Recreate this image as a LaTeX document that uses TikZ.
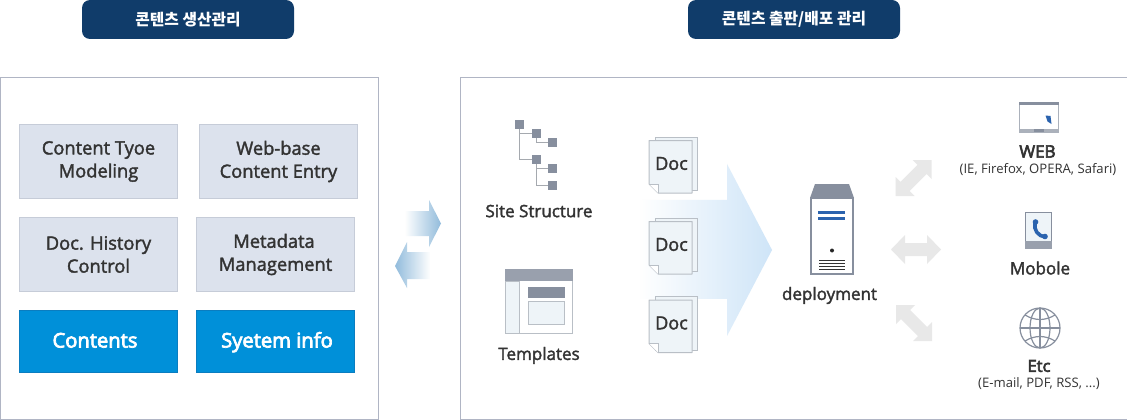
\documentclass[tikz,border=0pt]{standalone}
\usepackage{fontspec}
\setmainfont{Open Sans}
\newfontfamily\medf[FakeBold=2]{Open Sans}
\newfontfamily\strf[FakeBold=3.6]{Open Sans}
\newfontfamily\krfont{Noto Sans CJK KR}
\usetikzlibrary{calc,fadings}
\definecolor{navy}{HTML}{103C6A}
\definecolor{frameC}{HTML}{B0B5C4}
\definecolor{cellF}{HTML}{DCE2ED}
\definecolor{cellD}{HTML}{C6CCD8}
\definecolor{blueF}{HTML}{0090D9}
\definecolor{blueD}{HTML}{0A7DC0}
\definecolor{txt}{HTML}{333333}
\definecolor{iconG}{HTML}{878F9E}
\definecolor{lineG}{HTML}{A5A9AF}
\definecolor{pageF}{HTML}{EEF4F8}
\definecolor{pageD}{HTML}{B9BFC6}
\definecolor{arrowG}{HTML}{E8E8E8}
\definecolor{arrowB}{HTML}{92BCDC}
\definecolor{bigB}{HTML}{CFE5F8}
\definecolor{srvB}{HTML}{2B63AE}
\tikzfading[name=fadeR,left color=transparent!100,right color=transparent!0]
\tikzfading[name=fadeL,left color=transparent!0,right color=transparent!100]
\tikzset{
 x=1pt,y=-1pt,
 pill/.style={fill=navy,rounded corners=8pt,text=white,font=\krfont\bfseries\fontsize{15.8}{17}\selectfont,inner sep=0pt},
 frame/.style={draw=frameC,line width=1pt,fill=white},
 cell/.style={draw=cellD,line width=1pt,fill=cellF,text=txt,align=center,font=\medf\fontsize{18.3}{23}\selectfont,execute at begin node={\rule{0pt}{16pt}}},
 bcell/.style={draw=blueD,line width=.6pt,fill=blueF,text=white,font=\strf\fontsize{20.2}{23}\selectfont,text height=15pt,text depth=3pt},
 lab/.style={text=txt,font=\medf\fontsize{17}{20}\selectfont,inner sep=0pt},
 sublab/.style={text=txt,font=\fontsize{13.1}{14}\selectfont,inner sep=0pt},
 sq/.style={fill=iconG,inner sep=0pt,minimum size=9pt},
 tree/.style={draw=lineG,line width=.8pt},
 page/.style={draw=pageD,line width=1pt,fill=pageF},
 garrow/.style={fill=arrowG},
}
\newcommand{\docicon}[4]{% name, x, y(top of back sheet), text
 \draw[page] (#2+6,#3) rectangle (#2+48,#3+53.5);
 \draw[page,line join=round] (#2,#3+3.5) -- (#2+43,#3+3.5) -- (#2+43,#3+56) -- (#2+9,#3+56) -- (#2,#3+47) -- cycle;
 \draw[page,fill=white,line width=.8pt] (#2,#3+47) -- (#2+9,#3+47) -- (#2+9,#3+56);
 \node[lab,font=\medf\fontsize{18}{20}\selectfont] (#1) at (#2+22.5,#3+26.5) {#4};
}
\begin{document}
\begin{tikzpicture}
\useasboundingbox (0,0) rectangle (1127,420);
\fill[white] (0,0) rectangle (1127,420);
% headers
\node[pill,minimum width=212pt,minimum height=39pt] (h1) at (188,19.5) {콘텐츠 생산관리};
\node[pill,minimum width=212pt,minimum height=39pt] (h2) at (794,19.5) {콘텐츠 출판/배포 관리};
% frames
\draw[frame] (0.5,78) rectangle (378.5,419);
\draw[frame] (460.5,78) rectangle (1127,419);
% left cells
\node[cell,minimum width=158pt,minimum height=74pt] (c1) at (98.5,161.5) {Content Tyoe\\Modeling};
\node[cell,minimum width=158pt,minimum height=74pt] (c2) at (278.5,161.5) {Web-base\\Content Entry};
\node[cell,minimum width=158pt,minimum height=74pt] (c3) at (98.5,254.5) {Doc. History\\Control};
\node[cell,minimum width=158pt,minimum height=74pt] (c4) at (275.5,254.5) {\hspace*{-3pt}Metadata\\Management};
\node[bcell,minimum width=158pt,minimum height=62pt] (c5) at (98,341.5) {\hspace*{-6pt}Contents};
\node[bcell,minimum width=158pt,minimum height=62pt] (c6) at (275,341.5) {\hspace*{4pt}Syetem info};
% centre arrows
\fill[arrowB,path fading=fadeR] (405,211) -- (429,211) -- (429,200) -- (441,223.5) -- (429,247) -- (429,236) -- (405,236) -- cycle;
\fill[arrowB,path fading=fadeL] (430,252) -- (407,252) -- (407,242) -- (395,266) -- (407,288) -- (407,279) -- (430,279) -- cycle;
% big arrow
\fill[bigB,path fading=fadeR] (640,200) -- (727,200) -- (727,164) -- (772,250) -- (727,336) -- (727,299) -- (640,299) -- cycle;
% site tree
\node[sq] (t0) at (519.5,124.5) {};
\node[sq] (t1) at (536.5,133.5) {};
\node[sq] (t2) at (552.5,142.5) {};
\node[sq] (t3) at (536.5,159.5) {};
\node[sq] (t4) at (552.5,168.5) {};
\node[sq] (t5) at (552.5,185.5) {};
\draw[tree] (t0.south) |- (t1.west);
\draw[tree] (t0.south) |- (t3.west);
\draw[tree] (t1.south) |- (t2.west);
\draw[tree] (t3.south) |- (t4.west);
\draw[tree] (t3.south) |- (t5.west);
\node[lab] (site) at (539,211) {Site Structure};
% template
\draw[page,fill=white] (505.5,269.5) rectangle (572.5,333.5);
\fill[iconG!85!white] (505,269) rectangle (573,281);
\draw[page] (505.5,281.5) rectangle (519.5,333.5);
\fill[iconG] (528,287) rectangle (565,298);
\draw[page] (528.5,301.5) rectangle (564.5,324.5);
\node[lab] (tmpl) at (539,355.5) {Templates};
% docs
\docicon{d1}{649}{137}{Doc}
\docicon{d2}{649}{218}{Doc}
\docicon{d3}{649}{296.5}{Doc}
% server
\fill[iconG] (810,198) -- (815,184) -- (849,184) -- (854,198) -- cycle;
\draw[draw=iconG,line width=2.4pt,fill=white] (811.2,198) rectangle (852.8,274);
\fill[srvB] (818,211) rectangle (845,213.5);
\fill[srvB] (818,217) rectangle (845,219.5);
\fill[black!85] (832,250.5) circle (2);
\foreach \yy in {260,263,266,269}{\fill[black!80] (819,\yy) rectangle (845,\yy+1.2);}
\node[lab] (dep) at (829.5,295.5) {deployment};
% grey double arrows
\fill[garrow] (891,249.5) -- (905,235) -- (905,243) -- (927,243) -- (927,235) -- (941,249.5) -- (927,264) -- (927,256) -- (905,256) -- (905,264) -- cycle;
\begin{scope}[shift={(913.5,178)}]
\fill[garrow] (-18,18) -- (-18,-1) -- (-13.1,3.9) -- (3.9,-13.1) -- (-1,-18) -- (18,-18) -- (18,1) -- (13.1,-3.9) -- (-3.9,13.1) -- (1,18) -- cycle;
\end{scope}
\begin{scope}[shift={(914,323)}]
\fill[garrow] (-18,-18) -- (-18,1) -- (-13.1,-3.9) -- (3.9,13.1) -- (-1,18) -- (18,18) -- (18,-1) -- (13.1,3.9) -- (-3.9,-13.1) -- (1,-18) -- cycle;
\end{scope}
% web icon
\fill[iconG!70!white] (1019,102) rectangle (1059,133);
\fill[iconG] (1019,102) rectangle (1059,104.5);
\fill[white] (1020,104.5) rectangle (1058,128.5);
\fill[iconG] (1034,129) rectangle (1044,132);
\fill[srvB] (1045.5,115.5) -- (1050.5,116) -- (1051.5,124) -- (1047.5,121.5) -- cycle;
\node[lab,font=\strf\fontsize{17}{18}\selectfont] (web) at (1037.5,151.5) {WEB};
\node[sublab] (websub) at (1038,170) {(IE, Firefox, OPERA, Safari)};
% mobile icon
\draw[draw=iconG,line width=1pt,fill=pageF] (1025.5,212.5) rectangle (1051.5,248);
\fill[iconG!85!white] (1025,241) rectangle (1052,249);
\draw[srvB,line width=3.6pt,line cap=round] (1035,223) .. controls (1033.5,230) and (1038,236) .. (1045,237);
\fill[srvB] (1035.5,222) circle (2.8);
\fill[srvB] (1045,236.5) circle (2.8);
% globe
\begin{scope}[draw=iconG,line width=1.2pt]
\draw (1040,328) circle (20);
\draw (1040,328) ellipse (10 and 20);
\draw (1020,328) -- (1060,328);
\draw (1040,308) -- (1040,348);
\draw (1025,315) .. controls (1035,321) and (1045,321) .. (1055,315);
\draw (1025,341) .. controls (1035,335) and (1045,335) .. (1055,341);
\end{scope}
\node[lab] (mob) at (1040,268) {Mobole};
\node[lab,font=\strf\fontsize{16.5}{18}\selectfont] (etc) at (1039,366) {Etc};
\node[sublab] (etcsub) at (1039,383.5) {(E-mail, PDF, RSS, ...)};
\end{tikzpicture}
\end{document}
